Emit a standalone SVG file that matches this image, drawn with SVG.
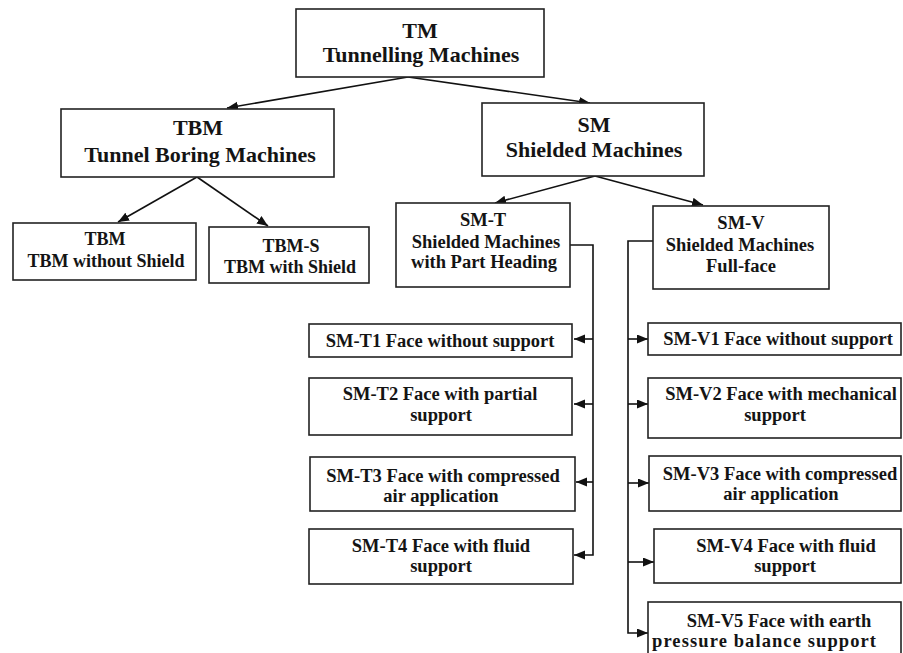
<svg xmlns="http://www.w3.org/2000/svg" width="903" height="653" viewBox="0 0 903 653">
<style>
.box{fill:#fff;stroke:#222;stroke-width:1.6}
.t{font-family:"Liberation Serif","Times New Roman",serif;font-weight:bold;fill:#141414;text-anchor:middle}
.h{font-size:22px}
.m{font-size:18.5px}
.s{font-size:18px}
.c{fill:none;stroke:#111;stroke-width:1.6}
</style>
<defs>
<marker id="ah" markerUnits="userSpaceOnUse" markerWidth="12" markerHeight="10" refX="11" refY="4.5" orient="auto">
<path d="M0,0 L11,4.5 L0,9 z" fill="#111"/>
</marker>
</defs>
<rect width="903" height="653" fill="#fff"/>
<g id="connectors">
<line class="c" x1="408" y1="77" x2="227" y2="108" marker-end="url(#ah)"/>
<line class="c" x1="408" y1="77" x2="590" y2="103" marker-end="url(#ah)"/>
<line class="c" x1="197" y1="177" x2="118" y2="222" marker-end="url(#ah)"/>
<line class="c" x1="197" y1="177" x2="268" y2="226" marker-end="url(#ah)"/>
<line class="c" x1="595" y1="176" x2="495" y2="203" marker-end="url(#ah)"/>
<line class="c" x1="595" y1="176" x2="703" y2="205" marker-end="url(#ah)"/>
<polyline class="c" points="570,245 593,245 593,555 574,555" marker-end="url(#ah)"/>
<line class="c" x1="593" y1="339" x2="574" y2="339" marker-end="url(#ah)"/>
<line class="c" x1="593" y1="404" x2="574" y2="404" marker-end="url(#ah)"/>
<line class="c" x1="593" y1="482" x2="576" y2="482" marker-end="url(#ah)"/>
<polyline class="c" points="653,241 628,241 628,633 648,633" marker-end="url(#ah)"/>
<line class="c" x1="628" y1="339" x2="648" y2="339" marker-end="url(#ah)"/>
<line class="c" x1="628" y1="404" x2="648" y2="404" marker-end="url(#ah)"/>
<line class="c" x1="628" y1="483" x2="649" y2="483" marker-end="url(#ah)"/>
<line class="c" x1="628" y1="562" x2="654" y2="562" marker-end="url(#ah)"/>
</g>
<g id="tm">
<rect class="box" x="296" y="9" width="248" height="68"/>
<text class="t h" x="420" y="38">TM</text>
<text class="t h" x="421" y="62">Tunnelling Machines</text>
</g>
<g id="tbm">
<rect class="box" x="61" y="109" width="273" height="68"/>
<text class="t h" x="198" y="135">TBM</text>
<text class="t h" x="200" y="162">Tunnel Boring Machines</text>
</g>
<g id="sm">
<rect class="box" x="482" y="103" width="222" height="73"/>
<text class="t h" x="594" y="132">SM</text>
<text class="t h" x="594" y="157">Shielded Machines</text>
</g>
<g id="tbm-ws">
<rect class="box" x="13" y="223" width="183" height="57"/>
<text class="t s" x="105" y="245">TBM</text>
<text class="t s" x="106" y="267">TBM without Shield</text>
</g>
<g id="tbm-s">
<rect class="box" x="209" y="227" width="160" height="56"/>
<text class="t s" x="291" y="252">TBM-S</text>
<text class="t s" x="290" y="273">TBM with Shield</text>
</g>
<g id="sm-t">
<rect class="box" x="396" y="203" width="174" height="84"/>
<text class="t m" x="483" y="226">SM-T</text>
<text class="t m" x="486" y="248">Shielded Machines</text>
<text class="t m" x="484" y="268">with Part Heading</text>
</g>
<g id="sm-v">
<rect class="box" x="653" y="206" width="176" height="83"/>
<text class="t m" x="741" y="229">SM-V</text>
<text class="t m" x="740" y="251">Shielded Machines</text>
<text class="t m" x="741" y="272">Full-face</text>
</g>
<g id="sm-t1">
<rect class="box" x="309" y="324" width="263" height="33"/>
<text class="t m" x="440" y="347">SM-T1 Face without support</text>
</g>
<g id="sm-t2">
<rect class="box" x="309" y="378" width="263" height="57"/>
<text class="t m" x="440" y="400">SM-T2 Face with partial</text>
<text class="t m" x="441" y="421">support</text>
</g>
<g id="sm-t3">
<rect class="box" x="310" y="457" width="265" height="54"/>
<text class="t m" x="443" y="482">SM-T3 Face with compressed</text>
<text class="t m" x="441" y="502">air application</text>
</g>
<g id="sm-t4">
<rect class="box" x="309" y="529" width="264" height="55"/>
<text class="t m" x="441" y="552">SM-T4 Face with fluid</text>
<text class="t m" x="441" y="572">support</text>
</g>
<g id="sm-v1">
<rect class="box" x="648" y="323" width="253" height="32"/>
<text class="t m" x="778" y="345">SM-V1 Face without support</text>
</g>
<g id="sm-v2">
<rect class="box" x="648" y="378" width="253" height="60"/>
<text class="t m" x="781" y="400">SM-V2 Face with mechanical</text>
<text class="t m" x="775" y="421">support</text>
</g>
<g id="sm-v3">
<rect class="box" x="649" y="456" width="252" height="55"/>
<text class="t m" x="780" y="480">SM-V3 Face with compressed</text>
<text class="t m" x="781" y="500">air application</text>
</g>
<g id="sm-v4">
<rect class="box" x="654" y="529" width="247" height="54"/>
<text class="t m" x="786" y="552">SM-V4 Face with fluid</text>
<text class="t m" x="785" y="572">support</text>
</g>
<g id="sm-v5">
<rect class="box" x="648" y="602" width="253" height="60"/>
<text class="t m" x="779" y="627">SM-V5 Face with earth</text>
<text class="t m" x="764" y="647" textLength="224" lengthAdjust="spacing">pressure balance support</text>
</g>
</svg>
